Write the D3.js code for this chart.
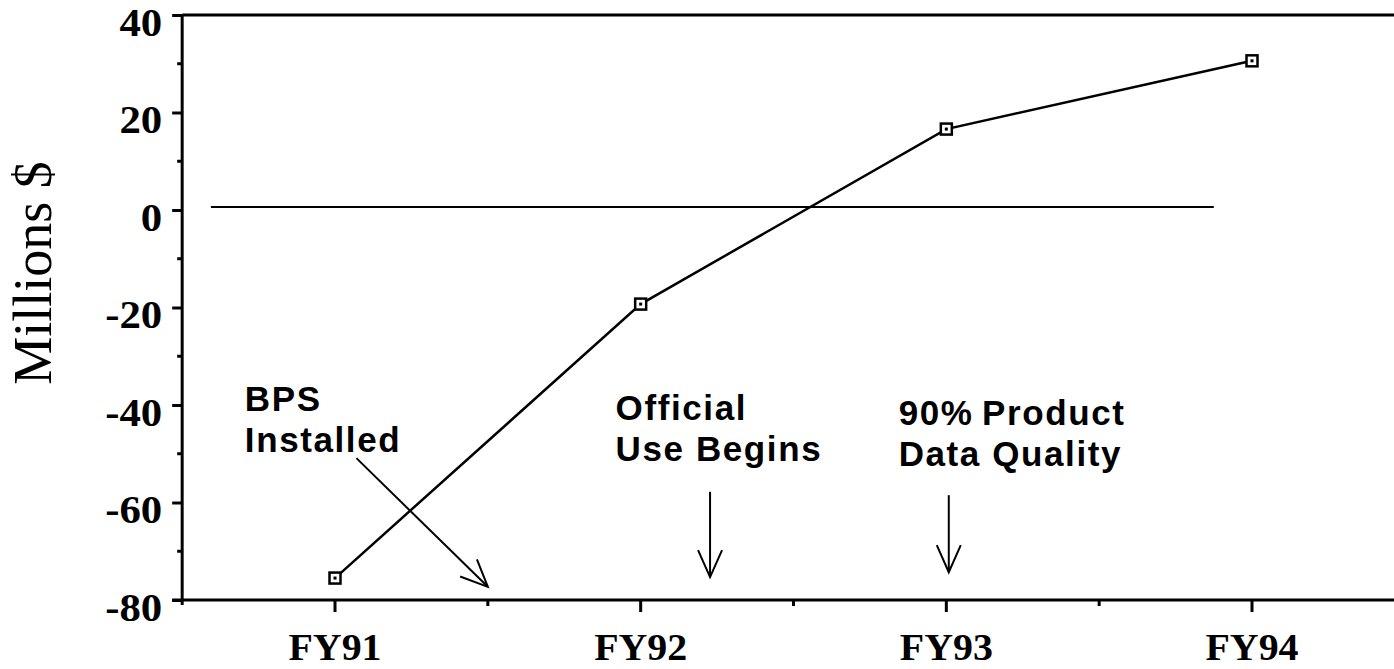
<!DOCTYPE html>
<html><head><meta charset="utf-8">
<script src="https://cdn.jsdelivr.net/npm/d3@7"></script>
<style>body{margin:0;background:#fff}svg{display:block}</style>
</head><body>
<svg id="chart" width="1394" height="669"></svg>
<script>
// ---- data ----
const categories = ["FY91", "FY92", "FY93", "FY94"];
const values = [-75.5, -19.3, 16.6, 30.6];
const yTickValues = [-80, -60, -40, -20, 0, 20, 40];
const yMinorTickValues = [-70, -50, -30, -10, 10, 30];
const yTitle = "Millions $";
const annotationTexts = [["BPS", "Installed"], ["Official", "Use Begins"], ["90%\u2009Product", "Data Quality"]];
// annotation anchor (category index, value) for text and arrow start/end
const annotationTextPos = [[-0.295, -41.3], [0.918, -43], [1.844, -44]];
const annotationArrows = [[[0.07, -50.9], [0.5, -77.3]], [[1.227, -57.8], [1.227, -75.3]], [[2.008, -58.5], [2.008, -74.3]]];
const zeroLine = {value: 0.6, from: -0.406, to: 2.875};

// ---- scales ----
const svg = d3.select("#chart");
const x = d3.scaleLinear().domain([0, categories.length - 1]).range([335, 1252]);
const y = d3.scaleLinear().domain([-80, 40]).range([600, 15]);
const axisLeftX = x(-0.5);

// top frame line (extends to right edge)
svg.append("line").attr("x1", axisLeftX).attr("x2", 1394).attr("y1", y(40)).attr("y2", y(40))
  .attr("stroke", "#000").attr("stroke-width", 3);

// y axis
const yAxis = svg.append("g").attr("transform", `translate(${axisLeftX},0)`)
  .call(d3.axisLeft(y).tickValues(yTickValues).tickSizeInner(10).tickSizeOuter(0).tickFormat(d => String(d)));
yAxis.select(".domain").attr("stroke-width", 3).attr("d", `M0,${y(40)}V${y(-80) + 5}`);
yAxis.selectAll(".tick line").attr("stroke-width", 3);
yAxis.selectAll(".tick text")
  .attr("font-family", "Liberation Serif, Times New Roman, serif").attr("font-weight", "bold")
  .attr("font-size", 40).attr("fill", "#000")
  .attr("x", null).attr("dy", "0.5em")
  .attr("transform", "translate(-20,0) scale(1.07,1)");
svg.append("g").selectAll("line").data(yMinorTickValues).join("line")
  .attr("x1", axisLeftX - 5).attr("x2", axisLeftX).attr("y1", d => y(d)).attr("y2", d => y(d))
  .attr("stroke", "#000").attr("stroke-width", 3);

// x axis
const xAxisG = svg.append("g").attr("transform", `translate(0,${y(-80)})`);
xAxisG.append("line").attr("x1", axisLeftX - 10).attr("x2", 1394).attr("stroke", "#000").attr("stroke-width", 3);
xAxisG.selectAll(".major").data(categories).join("line").attr("class", "major")
  .attr("x1", (d, i) => x(i)).attr("x2", (d, i) => x(i)).attr("y1", 0).attr("y2", 12)
  .attr("stroke", "#000").attr("stroke-width", 3);
xAxisG.selectAll(".minor").data(categories).join("line").attr("class", "minor")
  .attr("x1", (d, i) => x(i + 0.5)).attr("x2", (d, i) => x(i + 0.5)).attr("y1", 0).attr("y2", 6)
  .attr("stroke", "#000").attr("stroke-width", 3);
xAxisG.selectAll("text").data(categories).join("text")
  .attr("transform", (d, i) => `translate(${x(i)},60) scale(1.05,1)`)
  .attr("text-anchor", "middle")
  .attr("font-family", "Liberation Serif, Times New Roman, serif").attr("font-weight", "bold")
  .attr("font-size", 38).text(d => d);

// y title
svg.append("text").attr("transform", `translate(51,${273}) rotate(-90)`)
  .attr("text-anchor", "middle").attr("font-family", "Liberation Serif, Times New Roman, serif")
  .attr("font-size", 54).text(yTitle);

// zero reference line
svg.append("line").attr("x1", x(zeroLine.from)).attr("x2", x(zeroLine.to))
  .attr("y1", y(zeroLine.value)).attr("y2", y(zeroLine.value)).attr("stroke", "#000").attr("stroke-width", 2);

// data line
const line = d3.line().x((d, i) => x(i)).y(d => y(d));
svg.append("path").datum(values).attr("d", line).attr("fill", "none").attr("stroke", "#000").attr("stroke-width", 2.5);
const pts = svg.append("g").selectAll("g").data(values).join("g")
  .attr("transform", (d, i) => `translate(${x(i)},${y(d)})`);
pts.append("rect").attr("x", -5.5).attr("y", -5.5).attr("width", 11).attr("height", 11)
  .attr("fill", "#fff").attr("stroke", "#000").attr("stroke-width", 2.5);
pts.append("rect").attr("x", -1.5).attr("y", -1.5).attr("width", 3).attr("height", 3).attr("fill", "#000");

// arrows
const defs = svg.append("defs");
defs.append("marker").attr("id", "arrow").attr("markerUnits", "userSpaceOnUse")
  .attr("viewBox", "-2 -14 32 28").attr("markerWidth", 32).attr("markerHeight", 28)
  .attr("refX", 27).attr("refY", 0).attr("orient", "auto")
  .append("path").attr("d", "M0,-12L27,0L0,12").attr("fill", "none").attr("stroke", "#000").attr("stroke-width", 2);
svg.append("g").selectAll("line").data(annotationArrows).join("line")
  .attr("x1", d => x(d[0][0])).attr("y1", d => y(d[0][1]))
  .attr("x2", d => x(d[1][0])).attr("y2", d => y(d[1][1]))
  .attr("stroke", "#000").attr("stroke-width", 2).attr("marker-end", "url(#arrow)");

// annotation texts
const ann = svg.append("g").selectAll("text").data(annotationTexts).join("text")
  .attr("font-family", "Liberation Sans, Arial, sans-serif").attr("font-weight", "bold")
  .attr("font-size", 35).attr("letter-spacing", 1.6)
  .attr("transform", (d, i) => `translate(${x(annotationTextPos[i][0])},${y(annotationTextPos[i][1])})`);
ann.selectAll("tspan").data(d => d).join("tspan")
  .attr("x", 0).attr("y", (d, j) => j * 41).text(d => d);
</script>
</body></html>
